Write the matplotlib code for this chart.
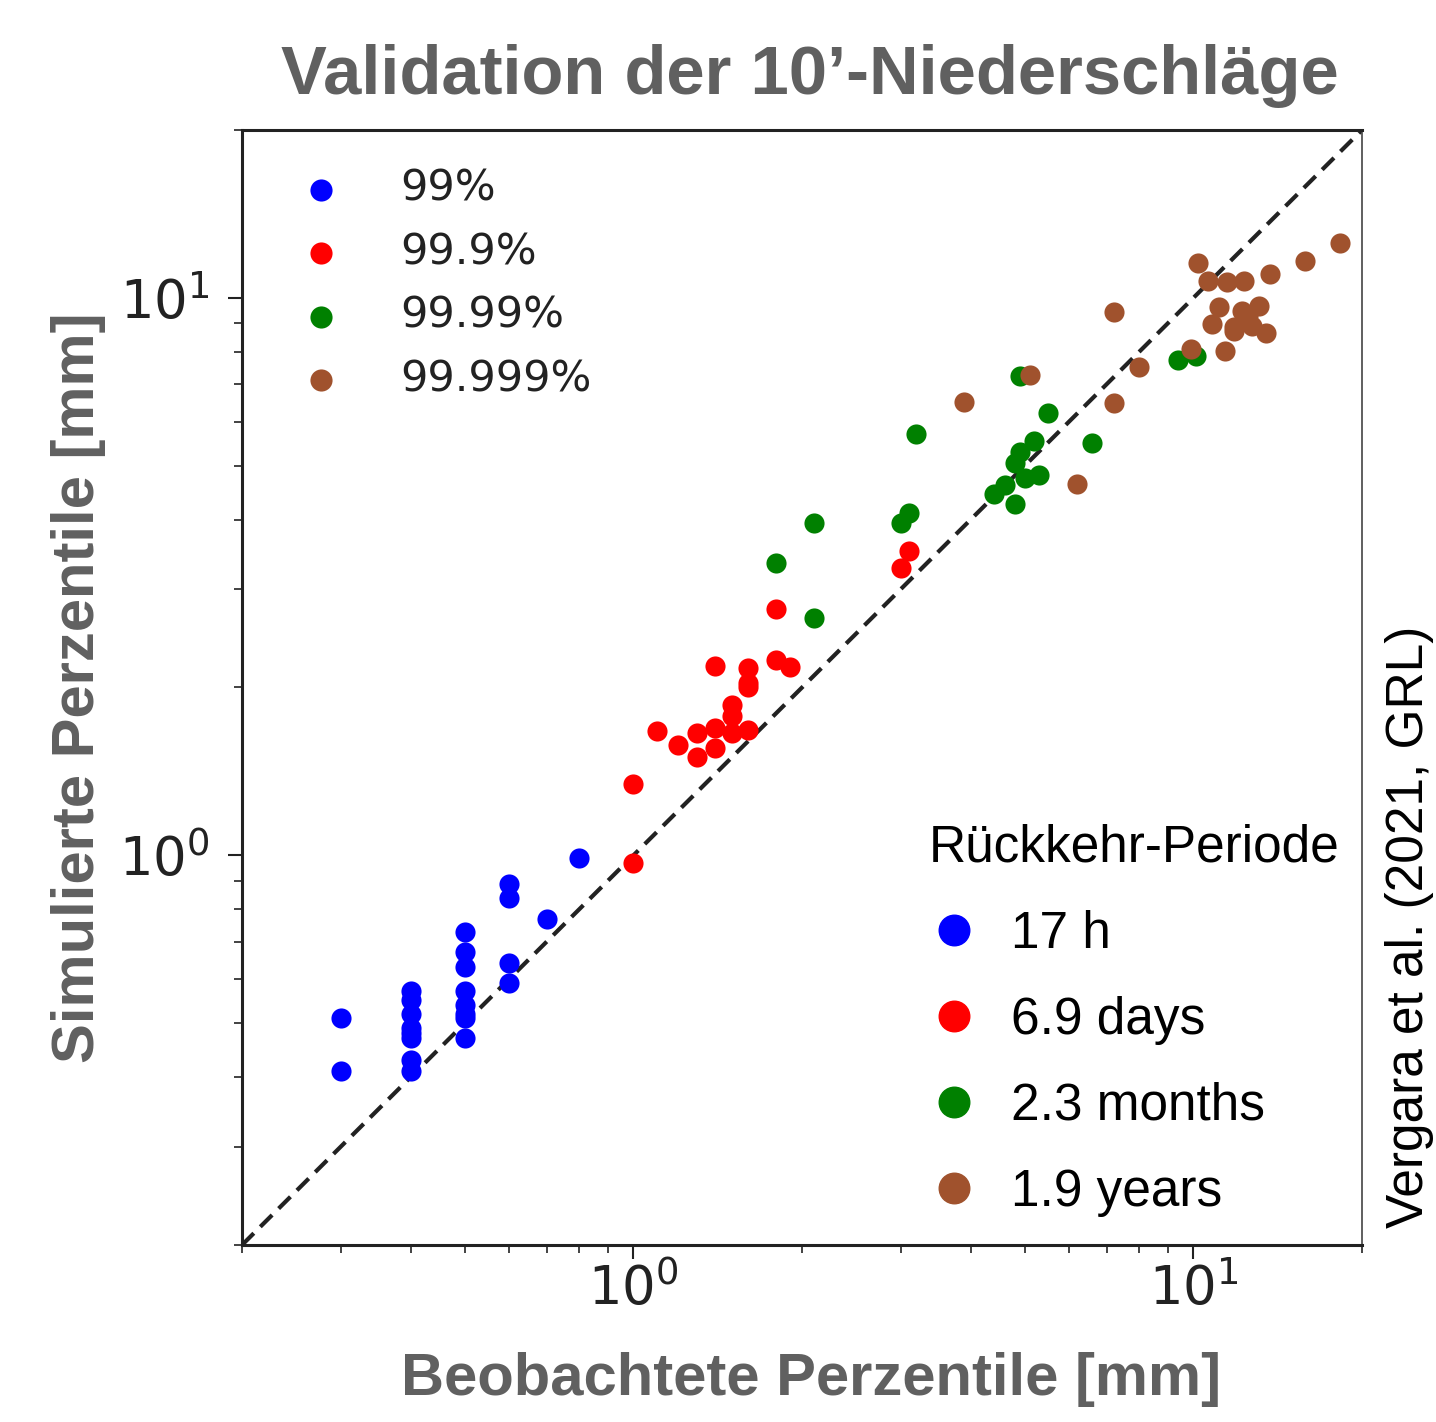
import matplotlib
matplotlib.use("Agg")
import matplotlib.pyplot as plt
from matplotlib.lines import Line2D

# observed (x) and simulated (y) percentiles, mm
x_99 = [0.3, 0.3, 0.4, 0.4, 0.4, 0.4, 0.4, 0.4, 0.4, 0.4,
        0.5, 0.5, 0.5, 0.5, 0.5, 0.5, 0.5, 0.5, 0.6, 0.6, 0.6, 0.6, 0.7, 0.8]
y_99 = [0.51, 0.41, 0.57, 0.55, 0.52, 0.49, 0.48, 0.47, 0.43, 0.41,
        0.73, 0.67, 0.63, 0.57, 0.54, 0.52, 0.51, 0.47, 0.89, 0.84, 0.64, 0.59, 0.77, 0.99]

x_999 = [1.0, 1.0, 1.1, 1.2, 1.3, 1.3, 1.4, 1.4, 1.4, 1.5, 1.5, 1.5,
         1.6, 1.6, 1.6, 1.6, 1.8, 1.8, 1.9, 3.0, 3.1]
y_999 = [0.97, 1.34, 1.67, 1.58, 1.66, 1.50, 2.19, 1.69, 1.56, 1.86, 1.78, 1.66,
         2.17, 2.04, 2.00, 1.68, 2.77, 2.24, 2.18, 3.27, 3.52]

x_9999 = [1.8, 2.1, 2.1, 3.0, 3.1, 3.2, 4.9, 5.5, 6.6, 5.2, 4.9, 4.8,
          5.3, 5.0, 4.6, 4.4, 4.8, 9.4, 10.1]
y_9999 = [3.34, 3.94, 2.67, 3.94, 4.11, 5.70, 7.23, 6.21, 5.50, 5.54, 5.30, 5.05,
          4.82, 4.76, 4.61, 4.44, 4.27, 7.73, 7.85]

x_99999 = [3.9, 5.1, 7.2, 8.0, 7.2, 6.2, 9.9, 10.2, 10.6, 11.5, 12.3, 13.7,
           15.8, 18.3, 11.1, 10.8, 12.2, 13.1, 11.8, 11.8, 12.7, 13.5, 11.4, 12.5]
y_99999 = [6.50, 7.28, 9.44, 7.53, 6.47, 4.63, 8.11, 11.54, 10.71, 10.66, 10.74, 11.02,
           11.66, 12.54, 9.62, 8.98, 9.46, 9.66, 8.87, 8.71, 8.89, 8.64, 8.04, 9.27]

percentiles = ['99%', '99.9%', '99.99%', '99.999%']
periods = ['17 h', '6.9 days', '2.3 months', '1.9 years']
colors = ['blue', 'red', 'green', 'sienna']

fig = plt.figure(figsize=(14.36, 14.22), dpi=100)
ax = fig.add_axes([242 / 1436, 1 - 1245 / 1422, 1120 / 1436, 1115 / 1422])

series = [(x_99, y_99), (x_999, y_999), (x_9999, y_9999), (x_99999, y_99999)]
for (xs, ys), c, lab in zip(series, colors, percentiles):
    ax.scatter(xs, ys, s=210, color=c, label=lab, linewidths=0, zorder=3)

# 1:1 line
ax.plot([0.2, 20], [0.2, 20], '--', color='#222222', lw=3, dashes=(4, 2.2), zorder=2)

ax.set_xscale('log')
ax.set_yscale('log')
ax.set_xlim(0.2, 20)
ax.set_ylim(0.2, 20)

for side in ['left', 'bottom', 'top']:
    ax.spines[side].set_linewidth(2.2)
    ax.spines[side].set_color('#222222')
ax.spines['right'].set_linewidth(1.2)
ax.spines['right'].set_color('#444444')

ax.tick_params(which='major', length=10, width=1.5, labelsize=38, colors='#222222')
ax.tick_params(which='minor', length=6, width=1.2, colors='#222222')
ax.tick_params(axis='x', which='major', pad=3)
ax.tick_params(axis='y', which='major', pad=13)

ax.set_title('Validation der 10’-Niederschläge', fontsize=49.5, fontweight='bold',
             color='#606060', family='Liberation Sans', pad=26, x=0.507)
ax.set_xlabel('Beobachtete Perzentile [mm]', fontsize=43, fontweight='bold',
              color='#606060', family='Liberation Sans', labelpad=26)
ax.xaxis.label.set_x(0.508)
ax.set_ylabel('Simulierte Perzentile [mm]', fontsize=43, fontweight='bold',
              color='#606060', family='Liberation Sans', labelpad=10)

leg1 = ax.legend(loc='upper left', bbox_to_anchor=(0.005, 0.993), frameon=False,
                 fontsize=31, labelspacing=0.5, handletextpad=0.85, borderaxespad=0.3,
                 markerscale=1.1)
for t in leg1.get_texts():
    t.set_color('#222222')
ax.add_artist(leg1)

handles = [Line2D([], [], marker='o', ls='', color=c, markersize=22) for c in colors]
leg2 = ax.legend(handles, periods, loc='lower right', bbox_to_anchor=(1.005, 0.0),
                 frameon=False, title='Rückkehr-Periode', alignment='left',
                 prop={'family': 'Liberation Sans', 'size': 37},
                 title_fontproperties={'family': 'Liberation Sans', 'size': 37},
                 labelspacing=0.72, handlelength=1.0, handletextpad=0.6, borderaxespad=0.15)

fig.text(1410 / 1436, 1 - 927 / 1422, 'Vergara et al. (2021, GRL)', rotation=90,
         ha='center', va='center', fontsize=37, family='Liberation Sans', color='black')

fig.savefig('out.png', dpi=100)
